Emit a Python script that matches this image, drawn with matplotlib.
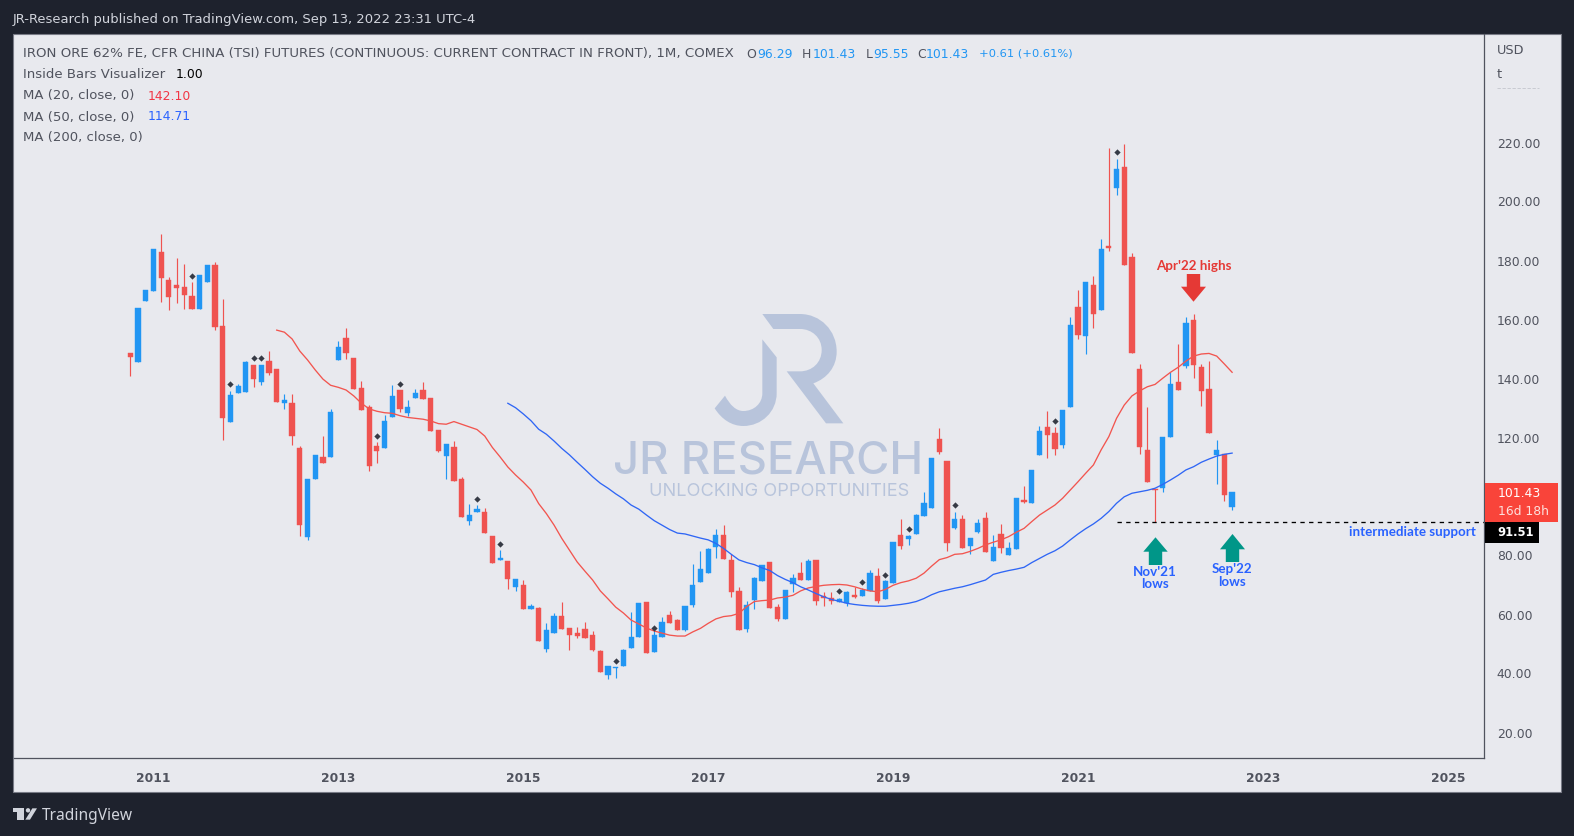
import numpy as np
import pandas as pd
import matplotlib
matplotlib.use("Agg")
import matplotlib.pyplot as plt
from matplotlib.patches import Rectangle, Polygon, PathPatch, Circle
from matplotlib.path import Path
from matplotlib.lines import Line2D
from matplotlib.transforms import IdentityTransform

months = pd.date_range("2010-10-01", periods=144, freq="MS")

opens = [148.6,145.6,166.3,169.7,182.9,173.4,171.7,171.0,168.0,163.6,172.7,178.5,
 157.8,125.3,135.1,135.4,144.6,138.8,145.9,143.2,131.7,131.7,116.4,86.3,
 105.9,113.4,113.4,146.3,153.7,146.9,136.8,130.3,117.1,116.4,127.0,136.1,
 128.3,133.4,136.1,133.4,122.5,113.7,116.8,105.9,91.7,94.7,94.7,86.6,
 78.5,78.1,69.3,70.0,61.9,62.2,48.3,53.7,59.5,55.4,53.7,55.1,
 53.0,47.6,39.5,41.9,42.5,48.6,52.4,64.2,47.3,52.4,59.8,58.1,
 54.7,63.2,71.0,74.1,82.9,87.0,78.5,68.0,55.1,64.9,71.4,77.8,
 62.5,58.5,70.3,74.1,71.7,78.5,66.3,65.6,64.2,63.9,66.6,66.3,
 68.0,73.1,65.3,70.7,87.0,85.6,87.3,93.4,96.1,119.5,112.0,89.3,
 92.4,83.2,88.0,92.7,78.1,87.3,80.2,82.2,98.8,97.8,114.1,123.6,
 121.5,117.5,130.3,164.2,154.4,171.7,163.2,184.9,204.6,211.7,181.2,143.2,
 115.8,102.5,102.9,120.2,138.8,144.2,159.8,143.9,136.4,114.1,114.4,96.29]
highs = [148.6,163.9,170.0,183.9,189.0,174.4,180.9,178.8,172.7,175.1,178.5,179.5,
 167.0,135.8,138.1,145.9,144.6,144.6,149.3,143.2,134.8,134.8,117.1,105.9,
 114.1,120.5,129.7,152.7,157.1,146.9,139.2,131.0,118.5,127.6,137.8,136.1,
 132.7,136.4,138.8,133.4,122.5,117.8,118.8,106.5,97.5,97.1,96.1,86.6,
 81.9,78.1,72.0,71.7,63.6,62.4,57.1,60.5,64.2,55.4,55.8,57.5,
 54.4,48.0,42.5,42.2,48.3,60.9,63.9,64.2,54.7,59.2,61.2,58.5,
 62.9,77.1,81.5,82.5,89.0,90.3,80.5,69.3,64.6,72.8,76.8,77.8,
 63.6,68.3,73.7,77.8,78.8,78.5,67.6,67.6,65.6,68.0,69.3,69.0,
 75.1,75.8,71.7,84.6,92.4,87.0,94.1,101.5,113.0,123.2,112.0,94.7,
 93.7,85.9,92.4,94.7,87.0,90.7,84.6,99.5,103.6,109.0,123.9,129.0,
 123.6,129.3,160.9,170.0,172.7,174.7,187.3,218.1,214.4,219.5,182.5,144.9,
 130.3,102.5,120.2,142.2,151.7,160.9,161.9,144.9,145.9,119.2,114.4,101.43]
lows = [140.8,145.6,166.3,169.7,165.9,163.2,165.6,163.5,163.6,163.6,172.7,156.4,
 119.2,125.3,135.1,135.4,137.1,137.8,141.2,132.0,129.7,117.5,86.6,85.3,
 105.9,111.4,113.4,146.3,146.6,136.4,129.3,108.6,111.4,116.4,127.0,128.6,
 127.3,133.4,133.1,122.2,115.1,105.9,105.3,93.1,90.3,94.7,87.6,77.5,
 78.5,68.6,68.0,61.9,61.9,51.0,47.3,53.7,55.1,48.0,52.0,52.0,
 47.6,40.5,38.1,38.5,42.5,48.6,52.4,46.9,47.3,52.4,57.1,54.7,
 54.4,62.5,71.0,74.1,79.2,78.8,65.9,54.7,54.1,61.9,71.4,62.2,
 57.8,58.5,67.6,71.7,71.7,63.2,62.9,63.6,64.2,62.9,65.6,66.3,
 68.0,63.9,65.3,70.7,82.2,83.6,87.3,93.4,96.1,114.4,81.5,89.0,
 82.5,80.5,87.6,81.2,78.1,80.8,80.2,82.2,97.8,97.8,114.1,113.1,
 114.1,116.4,130.3,153.4,148.3,157.1,163.2,183.2,202.2,178.5,148.6,114.4,
 104.9,91.5,101.5,120.2,136.1,143.6,140.2,130.7,121.5,104.2,98.5,95.55]
closes = [147.3,163.9,170.0,183.9,174.1,167.6,170.7,168.3,163.6,175.1,178.5,157.5,
 126.6,134.4,137.5,145.6,139.8,144.6,141.9,132.0,132.7,120.5,90.3,105.9,
 114.1,111.4,128.6,150.7,148.6,136.4,129.3,110.3,115.4,125.6,134.1,129.7,
 130.3,135.1,133.1,122.2,115.4,117.8,105.3,93.1,93.7,95.8,87.6,77.5,
 79.2,72.0,72.0,61.9,62.9,51.0,54.7,59.5,55.1,53.0,52.7,52.0,
 48.0,40.5,42.5,42.2,48.0,52.4,63.9,46.9,53.0,57.5,57.1,54.7,
 62.9,70.0,75.4,82.2,87.0,78.8,67.6,54.7,63.2,72.4,76.8,62.2,
 58.5,68.3,72.4,71.7,78.1,64.6,65.6,64.6,65.3,67.6,65.9,68.3,
 74.1,64.6,71.4,84.6,83.2,86.6,93.7,97.8,113.0,115.1,84.2,92.4,
 82.5,85.9,91.0,81.2,82.9,82.5,82.5,99.5,98.1,109.0,122.2,120.9,
 116.1,129.3,158.1,154.8,172.7,161.9,183.9,184.2,211.0,178.5,148.6,116.8,
 104.9,102.2,120.2,138.1,136.1,158.8,144.6,135.8,121.5,115.8,100.5,101.43]

ma20_start = 19
ma20 = [156.4,155.7,153.4,149.3,146.3,142.9,139.8,137.7,137.0,136.1,134.1,131.6,129.7,128.9,128.4,128.2,127.4,126.8,126.5,
 126.2,125.6,124.7,124.5,125.4,124.5,123.6,122.7,120.5,116.6,113.4,110.0,107.3,104.9,102.2,97.6,94.2,90.3,85.8,81.8,
 77.8,74.7,71.7,68.0,65.3,62.5,60.5,58.1,56.8,55.4,54.4,53.7,53.0,52.7,
 52.7,54.1,55.3,57.0,58.5,59.3,59.6,60.4,62.7,64.4,64.7,64.9,65.6,65.9,66.5,68.0,69.0,69.5,69.9,70.1,70.2,70.0,69.4,68.6,
 68.0,67.7,68.5,69.9,70.8,71.4,72.3,74.0,76.4,78.6,79.3,80.4,80.6,81.4,82.4,83.6,
 84.5,85.3,86.4,87.9,89.2,91.5,93.7,95.4,97.1,99.4,102.2,105.0,107.9,110.7,115.8,120.3,126.5,131.0,134.1,135.8,137.2,138.0,
 140.1,142.1,143.8,145.9,147.6,148.3,148.5,147.6,144.9,142.1]
ma50_start = 49
ma50 = [131.6,130.1,128.0,125.7,122.8,121.1,118.8,116.3,114.1,111.6,109.2,106.7,104.5,102.8,100.9,99.2,97.1,95.7,93.7,91.8,90.3,88.8,87.6,
 87.3,86.6,85.9,85.3,84.1,82.4,80.4,78.5,77.6,76.9,75.8,74.9,73.2,71.9,70.8,69.4,68.3,67.1,66.0,65.1,64.5,63.8,63.4,63.1,62.9,62.8,62.8,
 63.1,63.4,63.8,64.4,65.4,66.7,67.7,68.3,68.9,69.4,70.1,70.9,71.7,
 73.6,74.3,74.9,75.4,76.0,77.6,79.0,80.4,81.6,83.2,85.3,87.3,89.1,90.7,92.6,94.9,97.7,99.9,101.1,101.6,102.1,102.8,104.1,105.6,
 107.2,109.0,110.1,111.6,112.7,113.7,114.3,114.71]

inside_months = [8,13,16,17,32,35,45,48,63,68,92,95,98,101,107,120,128]
inside_marks = [174.7,138.0,146.8,146.8,120.5,138.1,99.2,83.9,44.4,55.3,67.9,70.9,73.5,89.0,97.0,125.6,216.7]

support_level = 91.51
support_from = 128
y_ticks = [20,40,60,80,120,140,160,180,200,220]

W, H = 1574, 836
BG = "#1e222d"; PANEL = "#e8e9ee"; GREY = "#50535e"; RED = "#ef5350"; BLUE = "#2196f3"
ROYAL = "#2962ff"; TEAL = "#009688"; ARROW_RED = "#e53935"
FONT = "DejaVu Sans"
ANN = "Lato"
PT = 0.72
FS = 13.3
NS = 12.4

fig = plt.figure(figsize=(W/100, H/100), dpi=100, facecolor=BG)
ID = IdentityTransform()
def P(x, y):
    return (x, H - y)
def T(x, y, s, size, color=GREY, ha="left", va="center", font=FONT, weight="normal", alpha=1, z=20):
    return fig.text(x, H - y, s, transform=ID, fontsize=size*PT, color=color, ha=ha, va=va,
                    family=font, fontweight=weight, alpha=alpha, zorder=z)

# panel behind everything
fig.add_artist(Rectangle(P(13, 791.5), 1548, 757.5, transform=ID, facecolor=PANEL,
                         edgecolor="#787b86", linewidth=0.8, zorder=-5))

L, R, TOP, BOT = 13.5, 1484.3, 34, 757.5
ax = fig.add_axes([L/W, 1-BOT/H, (R-L)/W, (BOT-TOP)/H])
ax.set_zorder(2)
ax.set_facecolor("none")
x0, dx = 130.3, 7.705
ax.set_xlim((L-x0)/dx, (R-x0)/dx)
py = lambda y: 220 - (y-142.5)/2.95
ax.set_ylim(py(BOT), py(TOP))

x = np.arange(len(opens))
o, h, l, c = map(np.array, (opens, highs, lows, closes))
colors = np.where(c >= o, BLUE, RED)
ax.vlines(x, l, h, colors=colors, linewidth=0.85, zorder=3)
ax.bar(x, np.abs(c-o), bottom=np.minimum(o, c), width=0.68, color=colors,
       edgecolor=colors, linewidth=0.3, zorder=3)
ax.plot(np.arange(ma20_start, ma20_start+len(ma20)), ma20, color="#f2554f", lw=0.95, zorder=4)
ax.plot(np.arange(ma50_start, ma50_start+len(ma50)), ma50, color="#2f66f5", lw=0.95, zorder=4)
ax.plot(inside_months, inside_marks, ls="none", marker="D", ms=3.2, color="#363a45", mew=0, zorder=5)
ax.hlines(support_level, support_from, ax.get_xlim()[1], colors="black", lw=0.95,
          linestyles=(0, (3.3, 3.3)), zorder=5)

for s in ("top", "left"):
    ax.spines[s].set_visible(False)
for s in ("right", "bottom"):
    ax.spines[s].set_color("#50535e")
    ax.spines[s].set_linewidth(0.9)

ticks = [i for i, d in enumerate(months) if d.month == 1 and d.year % 2 == 1]
more = [ticks[-1] + 24*k for k in range(1, 3)]
xt = ticks + more
xl = [str(2011 + 2*k) for k in range(len(xt))]
ax.set_xticks(xt)
ax.set_xticklabels(xl, fontsize=12.2*PT, color=GREY, family=FONT, fontweight="bold")
ax.tick_params(axis="x", length=0, pad=10.5)
ax.yaxis.tick_right()
ax.set_yticks(y_ticks)
ax.set_yticklabels([f"{v:.2f}" for v in y_ticks], fontsize=NS*PT, color=GREY, family=FONT)
ax.tick_params(axis="y", length=0, pad=9)

# watermark
WM = "#4b71b2"; WA = 0.3
def zp(zx, zy):
    return P(600 + zx/3, 300 + zy/3)
C4 = Path.CURVE4
j_v = [(487,118),(530,172),(530,280),(530,335),(485,378),(430,378),(395,378),(365,358),(344,325),(375,287),(390,315),(408,333),(430,333),(462,333),(487,310),(487,280),(487,118)]
j_c = [Path.MOVETO,Path.LINETO,Path.LINETO,C4,C4,C4,C4,C4,C4,Path.LINETO,C4,C4,C4,C4,C4,C4,Path.CLOSEPOLY]
r_v = [(487,42),(600,42),(661,42),(710,91),(710,155),(710,200),(682,235),(640,250),(730,370),(678,370),(560,214),(600,214),(636,214),(665,188),(665,150),(665,113),(636,87),(600,87),(520,87),(487,42)]
r_c = [Path.MOVETO,Path.LINETO,C4,C4,C4,C4,C4,C4,Path.LINETO,Path.LINETO,Path.LINETO,Path.LINETO,C4,C4,C4,C4,C4,C4,Path.LINETO,Path.CLOSEPOLY]
for v, cd in ((j_v, j_c), (r_v, r_c)):
    fig.add_artist(PathPatch(Path([zp(*a) for a in v], cd), transform=ID, facecolor=WM, edgecolor="none", alpha=WA, zorder=10))
T(768, 461.5, "JR RESEARCH", 45.5, color=WM, ha="center", font="Inter", weight="medium", alpha=WA, z=10)
T(779, 491, "UNLOCKING OPPORTUNITIES", 18.2, color=WM, ha="center", font="Inter", alpha=WA, z=10)

# header and legend
T(13, 20, "JR-Research published on TradingView.com, Sep 13, 2022 23:31 UTC-4", 13.1, color="#d1d4dc")
TITLE = "IRON ORE 62% FE, CFR CHINA (TSI) FUTURES (CONTINUOUS: CURRENT CONTRACT IN FRONT), 1M, COMEX"
T(23, 54, TITLE, 13.4)
for xx, s, col in ((746,"O",GREY),(757,"96.29",BLUE),(802,"H",GREY),(813,"101.43",BLUE),(865.5,"L",GREY),
                   (873,"95.55",BLUE),(917,"C",GREY),(926,"101.43",BLUE),(979,"+0.61 (+0.61%)",BLUE)):
    T(xx, 54, s, 11.5 if s.startswith("+") else NS, color=col)
T(23, 75, "Inside Bars Visualizer", FS)
T(176, 75, "1.00", NS, color="black")
T(23, 96, "MA (20, close, 0)", FS)
T(148, 96, "142.10", NS, color="#f23645")
T(23, 117, "MA (50, close, 0)", FS)
T(148, 117, "114.71", NS, color=ROYAL)
T(23, 138, "MA (200, close, 0)", FS)

# price scale extras
T(1497, 50.5, "USD", 12.9)
T(1497, 75, "t", 12.9)
fig.add_artist(Line2D([1497, 1539], [H-88.3, H-88.3], transform=ID, color="#c4c6cd", lw=0.6, ls=(0, (4, 2))))

# last price tags
fig.add_artist(Rectangle(P(1484.5, 522), 73, 39.5, transform=ID, facecolor="#f9443a", edgecolor="none", zorder=15))
T(1497.5, 493.5, "101.43", NS, color="white")
T(1497.5, 511.5, "16d 18h", NS, color="#fde0dc")
fig.add_artist(Rectangle(P(1484.5, 542.5), 54.5, 20.5, transform=ID, facecolor="black", edgecolor="none", zorder=15))
T(1497.5, 532, "91.51", 11.6, color="white", weight="bold")

# annotations
AS = 13.4
T(1194, 266.5, "Apr'22 highs", AS, color=ARROW_RED, ha="center", font=ANN, weight="bold")
T(1476, 531.5, "intermediate support", AS, color=ROYAL, ha="right", font=ANN, weight="bold")
T(1155, 572.3, "Nov'21", AS, color=ROYAL, ha="center", font=ANN, weight="bold")
T(1155, 584, "lows", AS, color=ROYAL, ha="center", font=ANN, weight="bold")
T(1232, 569.3, "Sep'22", AS, color=ROYAL, ha="center", font=ANN, weight="bold")
T(1232, 581.7, "lows", AS, color=ROYAL, ha="center", font=ANN, weight="bold")

def arrow(cx, tip, headb, end, hw, sw, col):
    pts = [(cx, tip), (cx+hw, headb), (cx+sw, headb), (cx+sw, end), (cx-sw, end), (cx-sw, headb), (cx-hw, headb)]
    fig.add_artist(Polygon([P(*p) for p in pts], closed=True, transform=ID, facecolor=col, edgecolor="none", zorder=12))
arrow(1193.5, 301.7, 286.7, 274, 12.5, 6.7, ARROW_RED)
arrow(1155.5, 537.3, 551.7, 565, 12.2, 6.7, TEAL)
arrow(1232.5, 534, 549.3, 562, 12.5, 6.7, TEAL)

# TradingView logo
LG = "#d1d4dc"
def lp(zx, zy):
    return P(zx/3, 740 + zy/3)
fig.add_artist(Polygon([lp(40,205),lp(72,205),lp(72,239),lp(52,239),lp(52,217),lp(40,217)], transform=ID, facecolor=LG, edgecolor="none", zorder=12))
fig.add_artist(Circle(lp(84,211), 2.2, transform=ID, facecolor=LG, edgecolor="none", zorder=12))
fig.add_artist(Polygon([lp(76,239),lp(90,239),lp(111,205),lp(97,205)], transform=ID, facecolor=LG, edgecolor="none", zorder=12))
T(42, 815.5, "TradingView", 15.5, color=LG, font="Noto Sans")

fig.savefig("out.png", dpi=100, facecolor=BG)
